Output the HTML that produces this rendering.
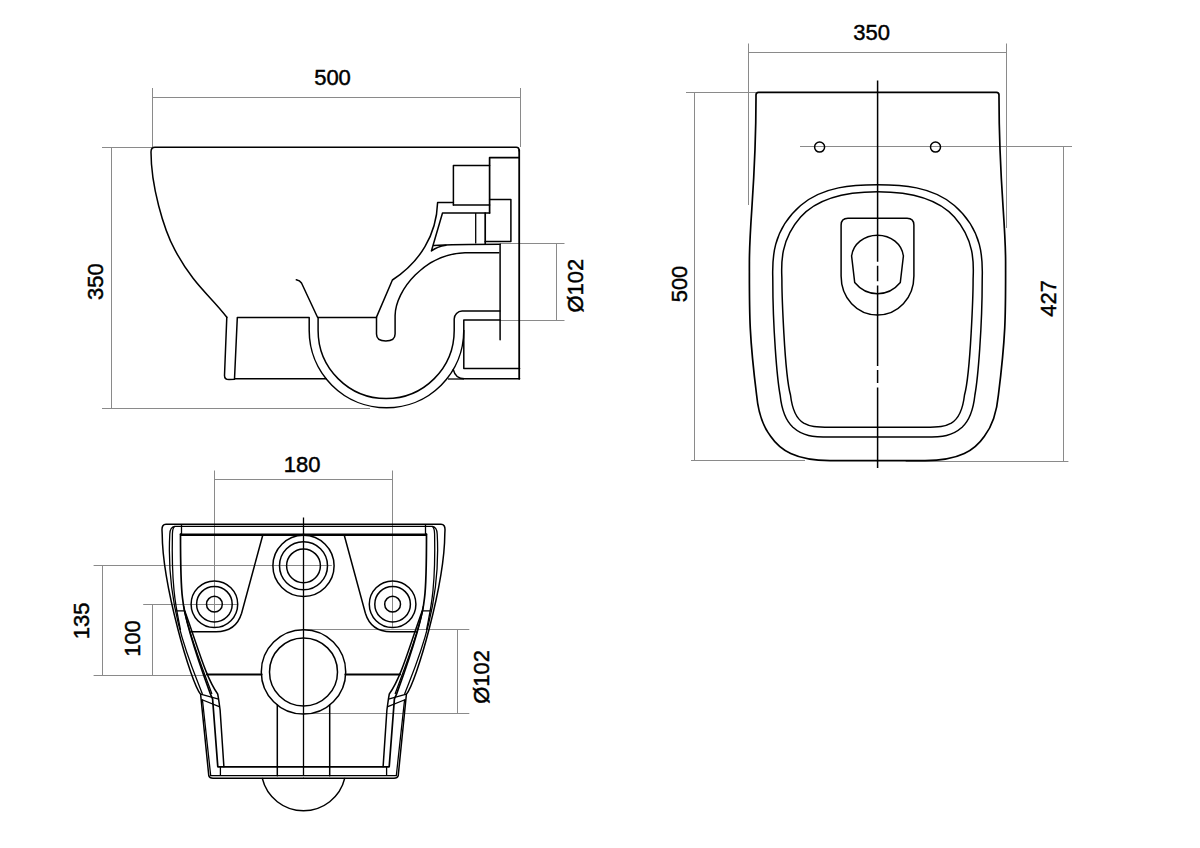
<!DOCTYPE html>
<html><head><meta charset="utf-8"><style>
html,body{margin:0;padding:0;background:#fff;width:1200px;height:848px;overflow:hidden}
svg{display:block}
text{font-family:"Liberation Sans",sans-serif;font-size:22px;fill:#000;stroke:#000;stroke-width:0.45}
.d{stroke:#8a8a8a;stroke-width:1;fill:none}
.k{stroke:#000;stroke-width:1.5;fill:none;stroke-linejoin:round;stroke-linecap:round}
.t{stroke:#000;stroke-width:1.7;fill:none;stroke-linejoin:round;stroke-linecap:round}
.n{stroke:#000;stroke-width:1.3;fill:none}
</style></head><body>
<svg width="1200" height="848" viewBox="0 0 1200 848">
<rect width="1200" height="848" fill="#fff"/>

<!-- ================= SIDE VIEW ================= -->
<g id="side">
  <!-- dimensions -->
  <path class="d" d="M152.5,97.5H520.5 M152.5,88V147 M520.5,88V147 M111.5,147.5V408.5 M102,147.5H152 M102,408.5H370 M500,243.5H564.5 M500,320.5H564.5 M556.5,243.5V320.5"/>
  <text x="332.5" y="84.5" text-anchor="middle">500</text>
  <text transform="translate(102.6,281.7) rotate(-90)" text-anchor="middle">350</text>
  <text transform="translate(582.8,285.7) rotate(-90)" text-anchor="middle">Ø102</text>

  <!-- outline -->
  <path class="k" d="M226.8,317.3 C210.4,295.8 193.8,285.2 175,250.2 C163.4,228.6 151,185.9 151,152 Q151,147.3 155,147.3 L516.2,147.3 Q519.2,147.3 519.2,151"/>
  <path class="t" style="stroke-width:1.8" d="M519.2,150 L519.2,378.8"/>
  <path class="k" d="M226.8,317.3 L224.5,375.5 Q224.5,379.6 229,379.6 L234.5,379.2 L237.3,317.6 L309.2,317.6 L309.2,330.6 A77.3,77.3 0 0 0 463.8,330.6"/>
  <path class="k" d="M234.5,378.8 L326,378.8"/>
  <path class="k" d="M318.1,317.6 L318.1,330.5 A68,68 0 0 0 454.2,330.5 L454.2,319 A7.9,7.9 0 0 1 462.1,311.1 L500,311.1"/>
  <path class="k" d="M318.1,317.6 L376.5,317.6"/>
  <!-- hook -->
  <path class="k" d="M296.3,279.8 Q299.8,280.5 301.5,283 L317.5,317.3"/>
  <!-- right bottom box -->
  <path class="k" d="M500,320 L463.8,320 L463.8,368.6 L519.6,368.6"/>
  <path class="k" d="M453.3,369.6 Q455.5,378.8 464.5,378.8 L519.6,378.8"/>
  <path class="n" d="M448,379 L464,379"/>
  <!-- pipe vertical -->
  <path class="k" d="M500.1,244.2 L500.1,339.8"/>
  <!-- trap lip -->
  <path class="k" d="M453.4,202.6 L437.6,202.6 C436.5,235 420,262 392.4,280 L376.5,317.1 L376.5,334 Q376.5,341 385.8,341 Q395.1,341 395.1,334 L395.1,315.4 C395.5,290 425,254 465,252.7 L498.8,252.7"/>
  <path class="k" d="M489.6,213 L442.5,213 L431.4,251 Q437,246.5 446,245.2"/>
  <path class="k" d="M433.6,245.4 C450,244.4 470,244.2 500.1,244.2"/>
  <!-- upper boxes -->
  <path class="k" d="M453.4,205.1 L453.4,165.5 L489.6,165.5"/>
  <path class="t" d="M489.6,213 L489.6,157.7 L519,157.7"/>
  <path class="k" d="M453.4,205.1 L489.6,205.1"/>
  <path class="k" d="M489.6,199.6 L510.9,199.6 L510.9,241.5 L485.2,241.5"/>
  <path class="t" d="M485.2,213 L485.2,243.5"/>
  <path class="n" d="M475.7,213 L475.7,243.5"/>
</g>

<!-- ================= TOP VIEW ================= -->
<g id="top">
  <path class="d" d="M748.5,43.5V205 M1006.5,43.5V228 M748.5,52.5H1006.5 M686,92.5H756 M694.5,92.5V460.5 M691,460.5H805 M800,146.5H1072 M1063.5,146.5V461.5 M905.7,461.5H1068.4"/>
  <text x="871.7" y="39.6" text-anchor="middle">350</text>
  <text transform="translate(686.8,284) rotate(-90)" text-anchor="middle">500</text>
  <text transform="translate(1055.5,298.3) rotate(-90)" text-anchor="middle">427</text>
  <!-- center line -->
  <path class="k" style="stroke-width:1.5;stroke-linecap:butt" d="M877.6,80.6V261.8 M877.6,265.8V281.2 M877.6,285.4V366 M877.6,370V383 M877.6,387.5V468"/>
  <circle class="k" cx="819.6" cy="147.1" r="5"/>
  <circle class="k" cx="935.5" cy="147.1" r="5"/>
  <g id="tophalf">
    <path class="t" d="M877.5,92.3 L758.5,92.3 Q756,92.3 756,95 C756.2,180 749.4,220 749.4,262 C749.4,313.4 748.9,333.5 756.6,395 C758,410 762,425 770.6,436.3 C780,450 795,460.6 830,460.6 L877.5,460.6"/>
    <path class="k" d="M877.5,184.8 C853.6,184.8 823,186.1 800.6,205.5 C768.9,232.9 772.8,266.6 772.8,280 C772.8,327.2 777,378.2 780.1,395 C781.5,408 785,420 792.9,427.2 C803,436 812,437.1 830,437.1 L877.5,437.1"/>
    <path class="k" d="M877.5,191.8 C827,191.8 808.4,208.4 800.6,217.1 C777.9,242.7 781.9,269.8 781.9,280 C781.9,291.1 784.3,372.8 790.5,395 C792,408 795,418 803.7,423.1 C810,426.6 816,427.2 830,427.2 L877.5,427.2"/>
    <path class="k" d="M877.5,218.2 L848,218.2 Q841.1,218.2 841.1,225 L841.1,276 C841.1,298 857,315 877.5,315"/>
    <path class="k" d="M877.5,235.2 C864,235.2 853,244 851.6,256 L854.7,282.5 C860,289 868,293.7 877.5,293.7"/>
  </g>
  <use href="#tophalf" transform="translate(1755,0) scale(-1,1)"/>
</g>

<!-- ================= REAR VIEW ================= -->
<g id="rear">
  <path class="d" d="M214.5,470.5V628 M392.5,470.5V628 M214.5,479.5H392.5 M93.6,565.5H331.8 M102.5,565.5V675.5 M93.6,675.5H206 M143.2,604.5H238 M152.5,604.5V675.5 M303.5,629.5H469.3 M303.5,713.5H469.3 M457.5,629.5V713.5"/>
  <text x="302.2" y="472" text-anchor="middle">180</text>
  <text transform="translate(88.8,620.8) rotate(-90)" text-anchor="middle">135</text>
  <text transform="translate(139.6,638.5) rotate(-90)" text-anchor="middle">100</text>
  <text transform="translate(488.8,676.9) rotate(-90)" text-anchor="middle">Ø102</text>
  <path class="n" d="M303.5,517.4V776"/>
  <!-- rings -->
  <circle class="k" cx="303.5" cy="565.8" r="30.6"/>
  <circle class="k" cx="303.5" cy="565.8" r="24"/>
  <circle class="k" cx="303.5" cy="565.8" r="16.9"/>
  <circle class="k" cx="303.5" cy="671.9" r="42.2"/>
  <circle class="k" cx="303.5" cy="671.9" r="34"/>
  <path class="k" d="M262.3,778.4 A42.4,42.4 0 0 0 344.7,778.4"/>
  <g id="rearhalf">
    <circle class="k" cx="214.4" cy="604.2" r="23.3"/>
    <circle class="k" cx="214.4" cy="604.2" r="17.8"/>
    <circle class="k" cx="214.4" cy="604.2" r="7.9"/>
    <!-- outer contour a -->
    <path class="k" d="M303.5,524.3 L166,524.3 Q161.8,524.3 162,530 L162.2,534 C162.4,584.6 190.8,682.7 200.6,694.2 L208.8,775.8 Q209.5,778.3 213,778.3 L303.5,778.3"/>
    <!-- b lines -->
    <path class="n" d="M303.5,526.3 L174.8,526.3 Q170,527 169.8,534 C165.5,612.5 193.5,669.9 202.4,694 M202.4,699.5 L210.7,775.7 L303.5,775.7"/>
    <path class="n" d="M174.8,526.3 Q172.5,528 172.4,534 C171.2,592.6 177.1,611.4 180.5,630"/>
    <path class="n" d="M181.5,524.5 V534.6 M176.3,610.9 H184.8 M220.4,766.8 V775.7"/>
    <!-- c thick -->
    <path class="t" style="stroke-width:2.4" d="M303.5,534.8 L181,534.8"/>
    <path class="t" d="M180.5,534 C180.5,560 180.8,585 182.5,598 C185,625 202.2,671.3 210.4,694 L212.6,699 L217.8,766.8 L303.5,766.8"/>
    <path class="k" d="M184.8,610.9 C197.8,646.7 205.4,676.7 217.7,694 L218.6,699.2 L220.1,710 L223.9,766.8"/>
    <path class="n" d="M183.6,606 C186.5,628 203.5,671 211.9,694"/>
    <path class="n" d="M200.6,694.2 L218.6,699.2 M201.5,699.5 L219.2,706.6"/>
    <!-- trapezoid -->
    <path class="k" d="M262.8,535 L241.6,613.2 C238,625 230,631.7 216,631.7 L191,631.7"/>
    <!-- h thick line -->
    <path class="t" style="stroke-width:2.1" d="M207,674.5 L261.5,674.5"/>
    <path class="k" d="M277.3,705 L277.3,775.7"/>
  </g>
  <use href="#rearhalf" transform="translate(607,0) scale(-1,1)"/>
</g>
</svg>
</body></html>
